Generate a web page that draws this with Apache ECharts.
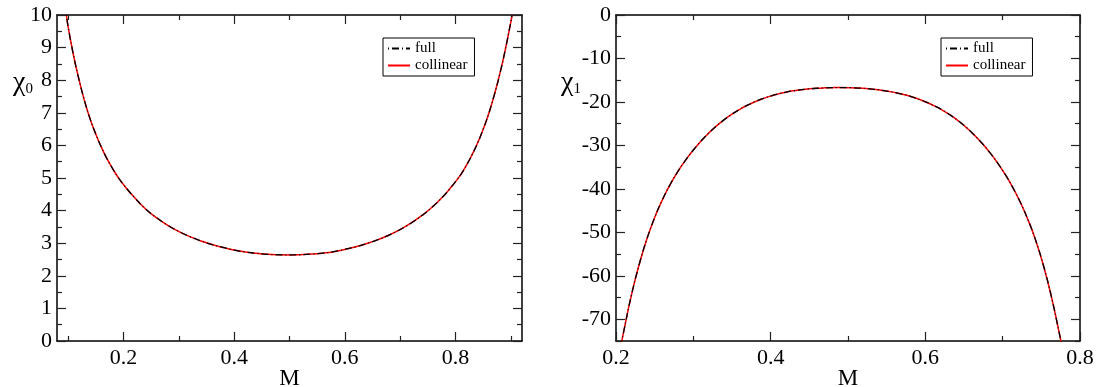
<!DOCTYPE html>
<html>
<head>
<meta charset="utf-8">
<script src="https://cdn.jsdelivr.net/npm/echarts@6/dist/echarts.min.js"></script>
<style>
html,body{margin:0;padding:0;background:#fff;}
#c{width:1102px;height:387px;}
</style>
</head>
<body>
<div id="c"></div>
<script>
// ---- data ----
const seriesNames = ['full', 'collinear'];

const M0 = [0.097, 0.10, 0.11, 0.12, 0.13, 0.14, 0.15, 0.16, 0.17, 0.18, 0.19, 0.20, 0.22, 0.24, 0.26, 0.28, 0.30, 0.32, 0.34, 0.36, 0.38, 0.40, 0.42, 0.44, 0.46, 0.48, 0.50, 0.52, 0.54, 0.56, 0.58, 0.60, 0.62, 0.64, 0.66, 0.68, 0.70, 0.72, 0.74, 0.76, 0.78, 0.79, 0.80, 0.81, 0.82, 0.83, 0.84, 0.85, 0.86, 0.87, 0.88, 0.89, 0.90, 0.902];
const chi0Full = [10.0, 9.65, 8.75, 8.0, 7.35, 6.8, 6.35, 5.95, 5.6, 5.3, 5.03, 4.8, 4.4, 4.05, 3.78, 3.55, 3.36, 3.2, 3.07, 2.96, 2.87, 2.79, 2.73, 2.69, 2.66, 2.645, 2.64, 2.648, 2.665, 2.695, 2.74, 2.81, 2.89, 2.99, 3.11, 3.25, 3.42, 3.62, 3.86, 4.14, 4.48, 4.68, 4.89, 5.12, 5.4, 5.72, 6.08, 6.5, 6.98, 7.55, 8.2, 8.95, 9.8, 10.0];
const chi0Col = [10.0, 9.65, 8.75, 8.0, 7.35, 6.8, 6.35, 5.95, 5.6, 5.3, 5.03, 4.8, 4.4, 4.05, 3.78, 3.55, 3.36, 3.2, 3.07, 2.96, 2.87, 2.79, 2.73, 2.69, 2.66, 2.645, 2.64, 2.648, 2.665, 2.695, 2.74, 2.81, 2.89, 2.99, 3.11, 3.25, 3.42, 3.62, 3.86, 4.14, 4.48, 4.68, 4.89, 5.12, 5.4, 5.72, 6.08, 6.5, 6.98, 7.55, 8.2, 8.95, 9.8, 10.0];

const M1 = [0.205, 0.21, 0.22, 0.23, 0.24, 0.25, 0.26, 0.27, 0.28, 0.29, 0.30, 0.31, 0.32, 0.33, 0.34, 0.35, 0.36, 0.37, 0.38, 0.39, 0.40, 0.41, 0.42, 0.43, 0.44, 0.45, 0.46, 0.47, 0.48, 0.49,
            0.503, 0.513, 0.523, 0.533, 0.543, 0.553, 0.563, 0.573, 0.583, 0.593, 0.603, 0.613, 0.623, 0.633, 0.643, 0.653, 0.663, 0.673, 0.683, 0.693, 0.703, 0.713, 0.723, 0.733, 0.743, 0.753, 0.763, 0.773, 0.778];
const chi1Full = [-77.3, -72.8, -64.4, -57.4, -51.5, -46.6, -42.5, -39.0, -36.0, -33.38, -31.06, -29.0, -27.16, -25.52, -24.07, -22.8, -21.7, -20.75, -19.93, -19.23, -18.64, -18.15, -17.75, -17.43, -17.18, -16.99, -16.85, -16.76, -16.71, -16.69,
                  -16.72, -16.8, -16.92, -17.09, -17.3, -17.58, -17.92, -18.34, -18.85, -19.46, -20.18, -21.02, -21.98, -23.1, -24.4, -25.88, -27.56, -29.45, -31.56, -33.93, -36.6, -39.65, -43.15, -47.2, -52.0, -57.8, -64.8, -73.0, -77.4];
const chi1Col = [-77.3, -72.8, -64.4, -57.4, -51.5, -46.6, -42.5, -39.0, -36.0, -33.38, -31.06, -29.0, -27.16, -25.52, -24.07, -22.8, -21.7, -20.75, -19.93, -19.23, -18.64, -18.15, -17.75, -17.43, -17.18, -16.99, -16.85, -16.76, -16.71, -16.69,
                 -16.72, -16.8, -16.92, -17.09, -17.3, -17.58, -17.92, -18.34, -18.85, -19.46, -20.18, -21.02, -21.98, -23.1, -24.4, -25.88, -27.56, -29.45, -31.56, -33.93, -36.6, -39.65, -43.15, -47.2, -52.0, -57.8, -64.8, -73.0, -77.4];

// tick values
const x0Major = [0.2, 0.4, 0.6, 0.8];
const x0Minor = [0.1, 0.3, 0.5, 0.7, 0.9];
const y0Major = [0, 1, 2, 3, 4, 5, 6, 7, 8, 9, 10];
const y0Minor = [0.5, 1.5, 2.5, 3.5, 4.5, 5.5, 6.5, 7.5, 8.5, 9.5];
const x1Major = [0.2, 0.4, 0.6, 0.8];
const x1Minor = [0.3, 0.5, 0.7];
const y1Major = [-70, -60, -50, -40, -30, -20, -10, 0];
const y1Minor = [-75, -65, -55, -45, -35, -25, -15, -5];

// ---- styling / layout ----
const FONT = 'Liberation Serif';
const labelStyle = {fontFamily: FONT, fontSize: 22, color: '#000'};
const tickLine = {color: '#222', width: 1.2};
const frameLine = {color: '#000', width: 1.5};

function pair(xs, ys) { return xs.map((x, i) => [x, ys[i]]); }

function makeAxes(gi, dim, min, max, major, minor, name, nameOpts) {
  const pos = dim === 'x' ? ['bottom', 'top'] : ['left', 'right'];
  const margin = dim === 'x' ? 6 : 5;
  const axes = [];
  pos.forEach((p, k) => {
    const main = {
      gridIndex: gi, type: 'value', position: p, min: min, max: max,
      axisLine: {show: true, onZero: false, lineStyle: frameLine},
      axisTick: {show: true, inside: true, length: 9, customValues: major, lineStyle: tickLine},
      axisLabel: k === 0 ? Object.assign({show: true, customValues: major, margin: margin}, labelStyle) : {show: false},
      splitLine: {show: false}
    };
    if (k === 0 && name) Object.assign(main, nameOpts, {name: name});
    axes.push(main);
    axes.push({
      gridIndex: gi, type: 'value', position: p, min: min, max: max,
      axisLine: {show: false, onZero: false},
      axisTick: {show: true, inside: true, length: 5, customValues: minor, lineStyle: tickLine},
      axisLabel: {show: false},
      splitLine: {show: false}
    });
  });
  return axes;
}

const xNameOpts = {
  nameLocation: 'middle', nameGap: 38, nameMoveOverlap: false,
  nameTextStyle: {fontFamily: FONT, fontSize: 23, color: '#000', verticalAlign: 'middle'}
};
function yNameOpts(gap, padRight) {
  return {
    nameLocation: 'end', nameGap: gap, nameMoveOverlap: false,
    nameTextStyle: {
      align: 'right', verticalAlign: 'middle', padding: [0, padRight, 0, 0],
      rich: {
        a: {fontFamily: FONT, fontSize: 28, lineHeight: 30, color: '#000', verticalAlign: 'bottom'},
        b: {fontFamily: FONT, fontSize: 15, lineHeight: 15, color: '#000', verticalAlign: 'bottom'}
      }
    }
  };
}

const xAxis = [].concat(
  makeAxes(0, 'x', 0.08, 0.92, x0Major, x0Minor, 'M', xNameOpts),
  makeAxes(1, 'x', 0.2, 0.8, x1Major, x1Minor, 'M', xNameOpts)
);
const yAxis = [].concat(
  makeAxes(0, 'y', 0, 10, y0Major, y0Minor, '{a|χ}{b|0}', yNameOpts(-67, 24)),
  makeAxes(1, 'y', -75, 0, y1Major, y1Minor, '{a|χ}{b|1}', yNameOpts(-67, 35))
);

function mkSeries(gi, name, xs, ys) {
  const isFull = name === 'full';
  const col = isFull ? '#000' : '#ff0000';
  return {
    type: 'line', name: name, xAxisIndex: gi * 4, yAxisIndex: gi * 4,
    data: pair(xs, ys), symbol: 'none', showSymbol: false,
    smooth: true, clip: true,
    z: isFull ? 3 : 2,
    itemStyle: {color: col, opacity: 0},
    lineStyle: isFull ? {color: col, width: 1.3, type: [1, 3, 7, 3]} : {color: col, width: 1.5, type: 'solid'}
  };
}

function mkLegend(left) {
  return {
    left: left, top: 38, orient: 'vertical', data: seriesNames,
    itemWidth: 22, itemHeight: 14, itemGap: 2, padding: [3, 7, 3, 4],
    borderColor: '#000', borderWidth: 1, backgroundColor: '#fff',
    selectedMode: false,
    itemStyle: {opacity: 0},
    textStyle: {fontFamily: FONT, fontSize: 15, color: '#000'}
  };
}

const option = {
  backgroundColor: '#fff',
  animation: false,
  grid: [
    {left: 57, top: 15, width: 465, height: 326, outerBoundsMode: 'none', containLabel: false},
    {left: 616, top: 15, width: 464, height: 326, outerBoundsMode: 'none', containLabel: false}
  ],
  xAxis: xAxis,
  yAxis: yAxis,
  legend: [mkLegend(383), mkLegend(941)],
  series: [
    mkSeries(0, 'collinear', M0, chi0Col),
    mkSeries(0, 'full', M0, chi0Full),
    mkSeries(1, 'collinear', M1, chi1Col),
    mkSeries(1, 'full', M1, chi1Full)
  ]
};

const chart = echarts.init(document.getElementById('c'), null, {renderer: 'canvas'});
chart.setOption(option);
</script>
</body>
</html>
